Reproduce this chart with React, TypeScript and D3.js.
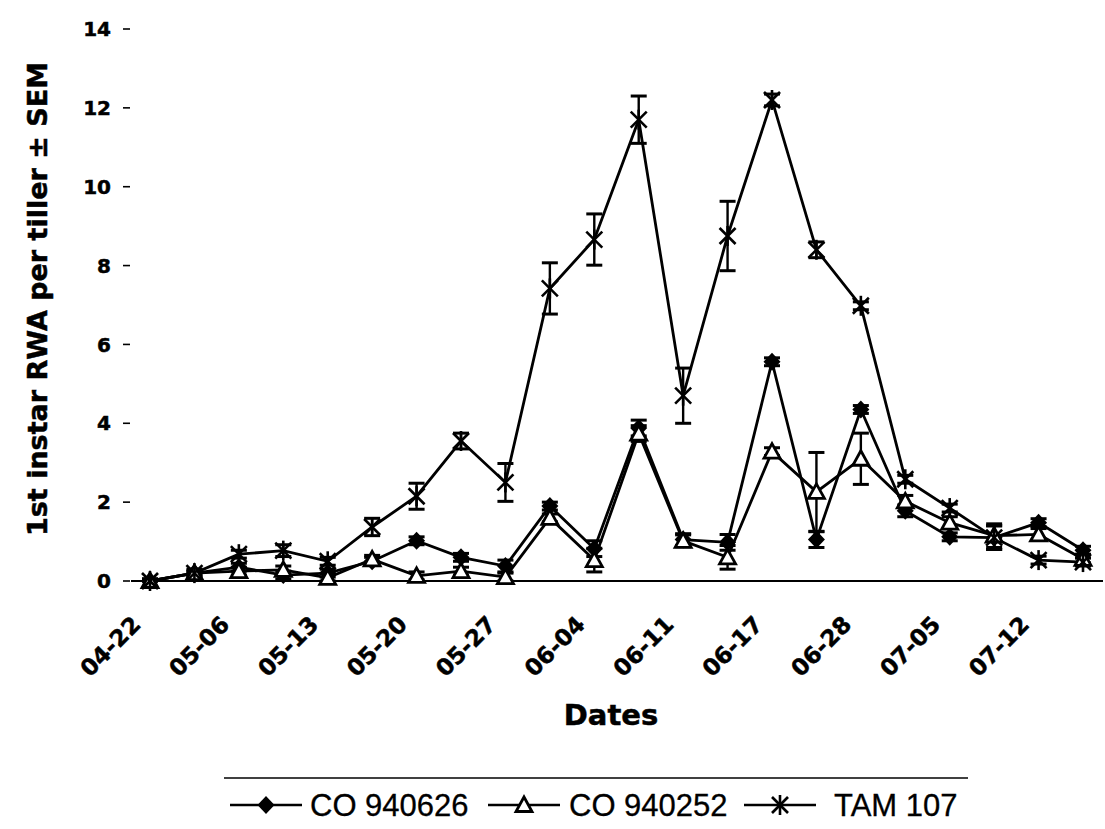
import React from "react";
import * as d3 from "d3";

// ---- data ----
const tickLabels = ["04-22", "05-06", "05-13", "05-20", "05-27", "06-04", "06-11", "06-17", "06-28", "07-05", "07-12"];
const sampleIndex = d3.range(22); // sampling occasions (labels every second occasion)

const co940626 = [0, 0.2, 0.35, 0.15, 0.2, 0.5, 1.02, 0.6, 0.38, 1.9, 0.82, 3.88, 1.05, 0.98, 5.56, 1.05, 4.35, 1.78, 1.12, 1.1, 1.48, 0.78];
const co940626Sem = [0.05, 0.1, 0.1, 0.1, 0.1, 0.1, 0.1, 0.1, 0.15, 0.1, 0.2, 0.2, 0.15, 0.2, 0.1, 0.2, 0.1, 0.15, 0.1, 0.3, 0.1, 0.1];

const co940252 = [0, 0.2, 0.25, 0.28, 0.08, 0.55, 0.13, 0.25, 0.1, 1.6, 0.53, 3.74, 1.02, 0.6, 3.28, 2.26, 3.1, 2.02, 1.48, 1.15, 1.18, 0.56];
const co940252Sem = [0.05, 0.05, 0.1, 0.1, 0.1, 0.1, 0.1, 0.1, 0.1, 0.1, 0.3, 0.2, 0.15, 0.3, 0.1, 1.0, 0.65, 0.15, 0.15, 0.3, 0.15, 0.1];

const tam107 = [0, 0.2, 0.68, 0.77, 0.5, 1.37, 2.15, 3.55, 2.5, 7.42, 8.66, 11.7, 4.7, 8.75, 12.2, 8.4, 6.98, 2.58, 1.85, 1.1, 0.53, 0.48];
const tam107Sem = [0.05, 0.05, 0.1, 0.15, 0.1, 0.22, 0.33, 0.2, 0.48, 0.65, 0.65, 0.6, 0.7, 0.88, 0.15, 0.2, 0.1, 0.1, 0.1, 0.3, 0.1, 0.1];

const yTicks = [0, 2, 4, 6, 8, 10, 12, 14];

const seriesNames = ["CO 940626", "CO 940252", "TAM 107"];

type Series = { name: string; values: number[]; sem: number[]; marker: "diamond" | "triangle" | "star" };
const series: Series[] = [
  { name: seriesNames[0], values: co940626, sem: co940626Sem, marker: "diamond" },
  { name: seriesNames[1], values: co940252, sem: co940252Sem, marker: "triangle" },
  { name: seriesNames[2], values: tam107, sem: tam107Sem, marker: "star" },
];

const W = 1105;
const H = 829;
const BOLD = "'DejaVu Sans', sans-serif";

function Marker({ kind, x, y }: { kind: string; x: number; y: number }) {
  if (kind === "diamond") {
    return <path d={`M${x},${y - 9}L${x + 8.5},${y}L${x},${y + 9}L${x - 8.5},${y}Z`} fill="#000" />;
  }
  if (kind === "triangle") {
    return (
      <path
        d={`M${x},${y - 8}L${x + 8},${y + 6.5}L${x - 8},${y + 6.5}Z`}
        fill="#fff"
        stroke="#000"
        strokeWidth={2.8}
        strokeLinejoin="miter"
      />
    );
  }
  return (
    <g stroke="#000" strokeWidth={2.6}>
      <line x1={x - 8} y1={y - 8} x2={x + 8} y2={y + 8} />
      <line x1={x - 8} y1={y + 8} x2={x + 8} y2={y - 8} />
      <line x1={x} y1={y - 10} x2={x} y2={y + 10} />
    </g>
  );
}

export default function App() {
  const x = d3.scalePoint<number>().domain(sampleIndex).range([150, 1083]);
  const y = d3.scaleLinear().domain([0, 14]).range([581, 29]);
  const line = d3
    .line<number>()
    .x((_, i) => x(i) as number)
    .y((d) => y(d));

  const axisLeft = 131;
  const axisRight = 1103;

  const legendY = 805;
  const legendItems = [
    { x0: 230, tx: 310 },
    { x0: 488, tx: 569 },
    { x0: 744, tx: 834 },
  ];

  return (
    <svg width={W} height={H} style={{ position: "absolute", left: 0, top: 0, background: "#fff" }}>
      <rect width={W} height={H} fill="#fff" />
      {/* y ticks */}
      {yTicks.map((t) => (
        <g key={t}>
          <line x1={axisLeft - 8} x2={axisLeft - 1} y1={y(t)} y2={y(t)} stroke="#000" strokeWidth={1.6} />
          <text
            x={111}
            y={y(t)}
            dy="0.36em"
            textAnchor="end"
            fontFamily={BOLD}
            fontWeight="bold"
            fontSize={20}
            stroke="#000"
            strokeWidth={0.5}
          >
            {t}
          </text>
        </g>
      ))}
      {/* x axis */}
      <line x1={axisLeft} x2={axisRight} y1={y(0)} y2={y(0)} stroke="#000" strokeWidth={2.2} />
      {tickLabels.map((lab, k) => {
        const px = (x(k * 2) as number) - 8;
        const py = 626;
        return (
          <text
            key={lab}
            x={px}
            y={py}
            transform={`rotate(-45 ${px} ${py})`}
            textAnchor="end"
            fontFamily={BOLD}
            fontWeight="bold"
            fontSize={23}
            stroke="#000"
            strokeWidth={0.5}
          >
            {lab}
          </text>
        );
      })}
      {/* axis titles */}
      <text
        x={611}
        y={725}
        textAnchor="middle"
        fontFamily={BOLD}
        fontWeight="bold"
        fontSize={29}
        stroke="#000"
        strokeWidth={0.5}
      >
        Dates
      </text>
      <text
        transform={`translate(47 ${299}) rotate(-90)`}
        textAnchor="middle"
        fontFamily={BOLD}
        fontWeight="bold"
        fontSize={27}
        stroke="#000"
        strokeWidth={0.5}
      >
        1st instar RWA per tiller ± SEM
      </text>
      {/* lines */}
      {series.map((s) => (
        <path key={s.name} d={line(s.values) || ""} fill="none" stroke="#000" strokeWidth={2.8} />
      ))}
      {/* error bars */}
      {series.map((s) =>
        s.values.map((v, i) => {
          const cx = x(i) as number;
          const y1 = y(v + s.sem[i]);
          const y2 = y(Math.max(0, v - s.sem[i]));
          return (
            <g key={s.name + i} stroke="#000" strokeWidth={2.4}>
              <line x1={cx} x2={cx} y1={y1} y2={y2} />
              <line x1={cx - 8} x2={cx + 8} y1={y1} y2={y1} strokeWidth={3} />
              <line x1={cx - 8} x2={cx + 8} y1={y2} y2={y2} strokeWidth={3} />
            </g>
          );
        })
      )}
      {/* markers */}
      {series.map((s) =>
        s.values.map((v, i) => <Marker key={s.name + "m" + i} kind={s.marker} x={x(i) as number} y={y(v)} />)
      )}
      {/* legend */}
      <line x1={224} x2={968} y1={778} y2={778} stroke="#000" strokeWidth={1.6} />
      {series.map((s, k) => {
        const it = legendItems[k];
        return (
          <g key={s.name + "leg"}>
            <line x1={it.x0} x2={it.x0 + 72} y1={legendY} y2={legendY} stroke="#000" strokeWidth={2.6} />
            <Marker kind={s.marker} x={it.x0 + 36} y={legendY} />
            <text
              x={it.tx}
              y={legendY + 11}
              fontFamily="'Liberation Sans', Arial, sans-serif"
              fontSize={31}
              stroke="#000"
              strokeWidth={0.3}
            >
              {s.name}
            </text>
          </g>
        );
      })}
    </svg>
  );
}
